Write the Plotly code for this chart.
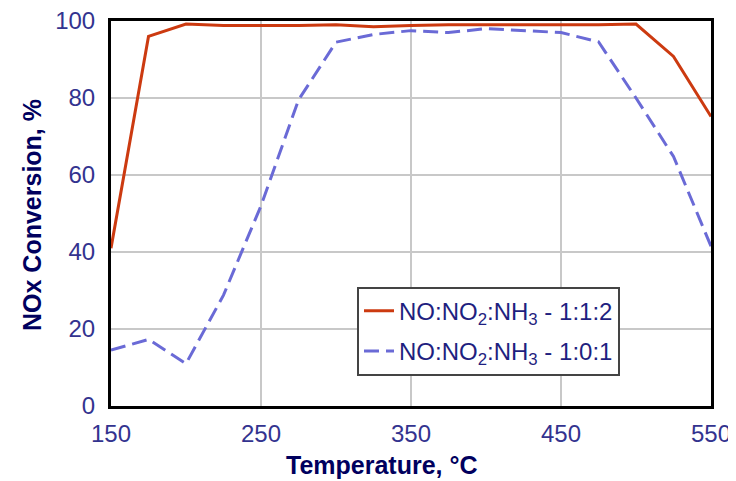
import plotly.graph_objects as go

temps = [150, 175, 200, 225, 250, 275, 300, 325, 350, 375, 400, 425, 450, 475, 500, 525, 550]
ratio_112 = [41, 96, 99.2, 98.8, 98.8, 98.8, 99, 98.5, 98.8, 99, 99, 99, 99, 99, 99.2, 90.8, 75.2]
ratio_101 = [14.5, 17.3, 11, 28.8, 52, 79.5, 94.5, 96.5, 97.5, 97, 98, 97.5, 97, 94.6, 80, 64.8, 41.5]

name_112 = "NO:NO<sub>2</sub>:NH<sub>3</sub> - 1:1:2"
name_101 = "NO:NO<sub>2</sub>:NH<sub>3</sub> - 1:0:1"
x_title = "<b>Temperature, °C</b>"
y_title = "<b>NOx Conversion, %</b>"

fig = go.Figure()
fig.add_trace(go.Scatter(x=temps, y=ratio_112, mode="lines", name=name_112, legendgroup="a",
                         line=dict(color="#CC3A10", width=3)))
fig.add_trace(go.Scatter(x=temps, y=ratio_101, mode="lines", name=name_101, legendgroup="b",
                         line=dict(color="#6A6AD6", width=3, dash="15px,7px")))

tick_font = dict(family="Liberation Sans, Arial", size=24, color="#33338F")
title_font = dict(family="Liberation Sans, Arial", size=25, color="#00005E")

# page body has an 8px margin, so the figure is offset by (8, 8)
fig.update_layout(
    width=728, height=473,
    margin=dict(l=103, r=25, t=13, b=75),
    paper_bgcolor="white", plot_bgcolor="white",
    showlegend=True,
    legend=dict(x=0.41, y=0.31, xanchor="left", yanchor="top",
                bgcolor="white", bordercolor="#444444", borderwidth=2,
                tracegroupgap=6,
                font=dict(family="Liberation Sans, Arial", size=24, color="#1F1F80")),
    xaxis=dict(range=[150, 550], tickvals=[150, 250, 350, 450, 550],
               showgrid=True, gridcolor="#C8C8C8", gridwidth=2,
               showline=True, linecolor="black", linewidth=3, mirror=True,
               ticks="outside", ticklen=4, tickcolor="rgba(0,0,0,0)",
               ticklabeloverflow="allow",
               tickfont=tick_font, zeroline=False, automargin=False),
    yaxis=dict(range=[0, 100], tickvals=[0, 20, 40, 60, 80, 100],
               showgrid=True, gridcolor="#C8C8C8", gridwidth=2,
               showline=True, linecolor="black", linewidth=3, mirror=True,
               ticks="outside", ticklen=8, tickcolor="rgba(0,0,0,0)",
               ticklabeloverflow="allow",
               tickfont=tick_font, zeroline=False, automargin=False),
    annotations=[
        dict(text=x_title, xref="paper", yref="paper", x=(382 - 111) / 600, y=-(465 - 406) / 385,
             xanchor="center", yanchor="middle", showarrow=False, font=title_font),
        dict(text=y_title, xref="paper", yref="paper", x=-(111 - 32) / 600, y=(406 - 215) / 385,
             xanchor="center", yanchor="middle", showarrow=False, font=title_font, textangle=-90),
    ],
)

fig.write_html("out.html")
